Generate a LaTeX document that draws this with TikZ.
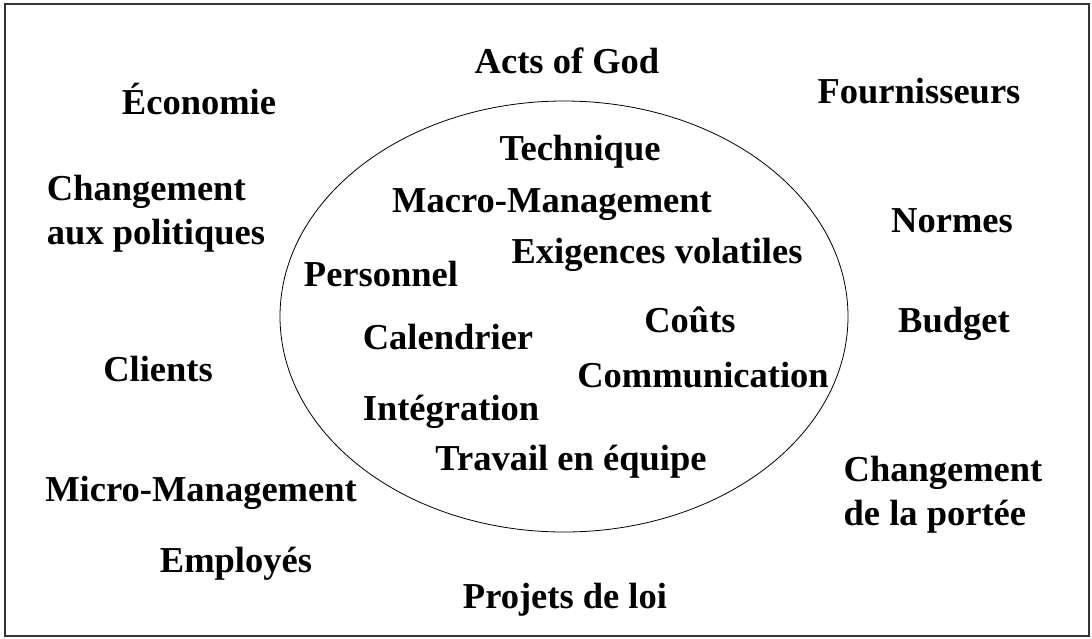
\documentclass[tikz,border=0pt]{standalone}
\usepackage{fontspec}
\setmainfont{Liberation Serif}
\usetikzlibrary{positioning}
\begin{document}
\begin{tikzpicture}[x=1pt,y=-1pt,
    risk/.style={font=\bfseries\fontsize{36.5}{44}\selectfont, inner sep=0pt, align=center, anchor=base}]
    \useasboundingbox (0,0) rectangle (1092,638);
    \draw[line width=1.5pt, black!80] (5,4) rectangle (1089,636);
    \draw[line width=0.8pt] (564,316.5) ellipse [x radius=284, y radius=215.5];
    % outside the ellipse
    \node[risk] (god) at (567,73) {Acts of God};
    \node[risk] (eco) at (199,114) {Économie};
    \node[risk] (four) at (919,103) {Fournisseurs};
    \node[risk, align=left] (pol) at (156,244) {Changement\\aux politiques};
    \node[risk] (norm) at (952,232) {Normes};
    \node[risk] (budg) at (954,332) {Budget};
    \node[risk] (cli) at (158,381) {Clients};
    \node[risk, align=left] (port) at (943,525) {Changement\\de la portée};
    \node[risk] (micro) at (201,501) {Micro-Management};
    \node[risk] (empl) at (236,572) {Employés};
    \node[risk] (loi) at (565,608) {Projets de loi};
    % inside the ellipse
    \node[risk] (tech) at (580,160) {Technique};
    \node[risk] (macro) at (552,212) {Macro-Management};
    \node[risk] (exig) at (657,263) {Exigences volatiles};
    \node[risk] (pers) at (381,286) {Personnel};
    \node[risk] (cout) at (690,332) {Coûts};
    \node[risk] (cal) at (448,349) {Calendrier};
    \node[risk] (comm) at (703,387) {Communication};
    \node[risk] (integ) at (451,420) {Intégration};
    \node[risk] (trav) at (571,470) {Travail en équipe};
\end{tikzpicture}
\end{document}
